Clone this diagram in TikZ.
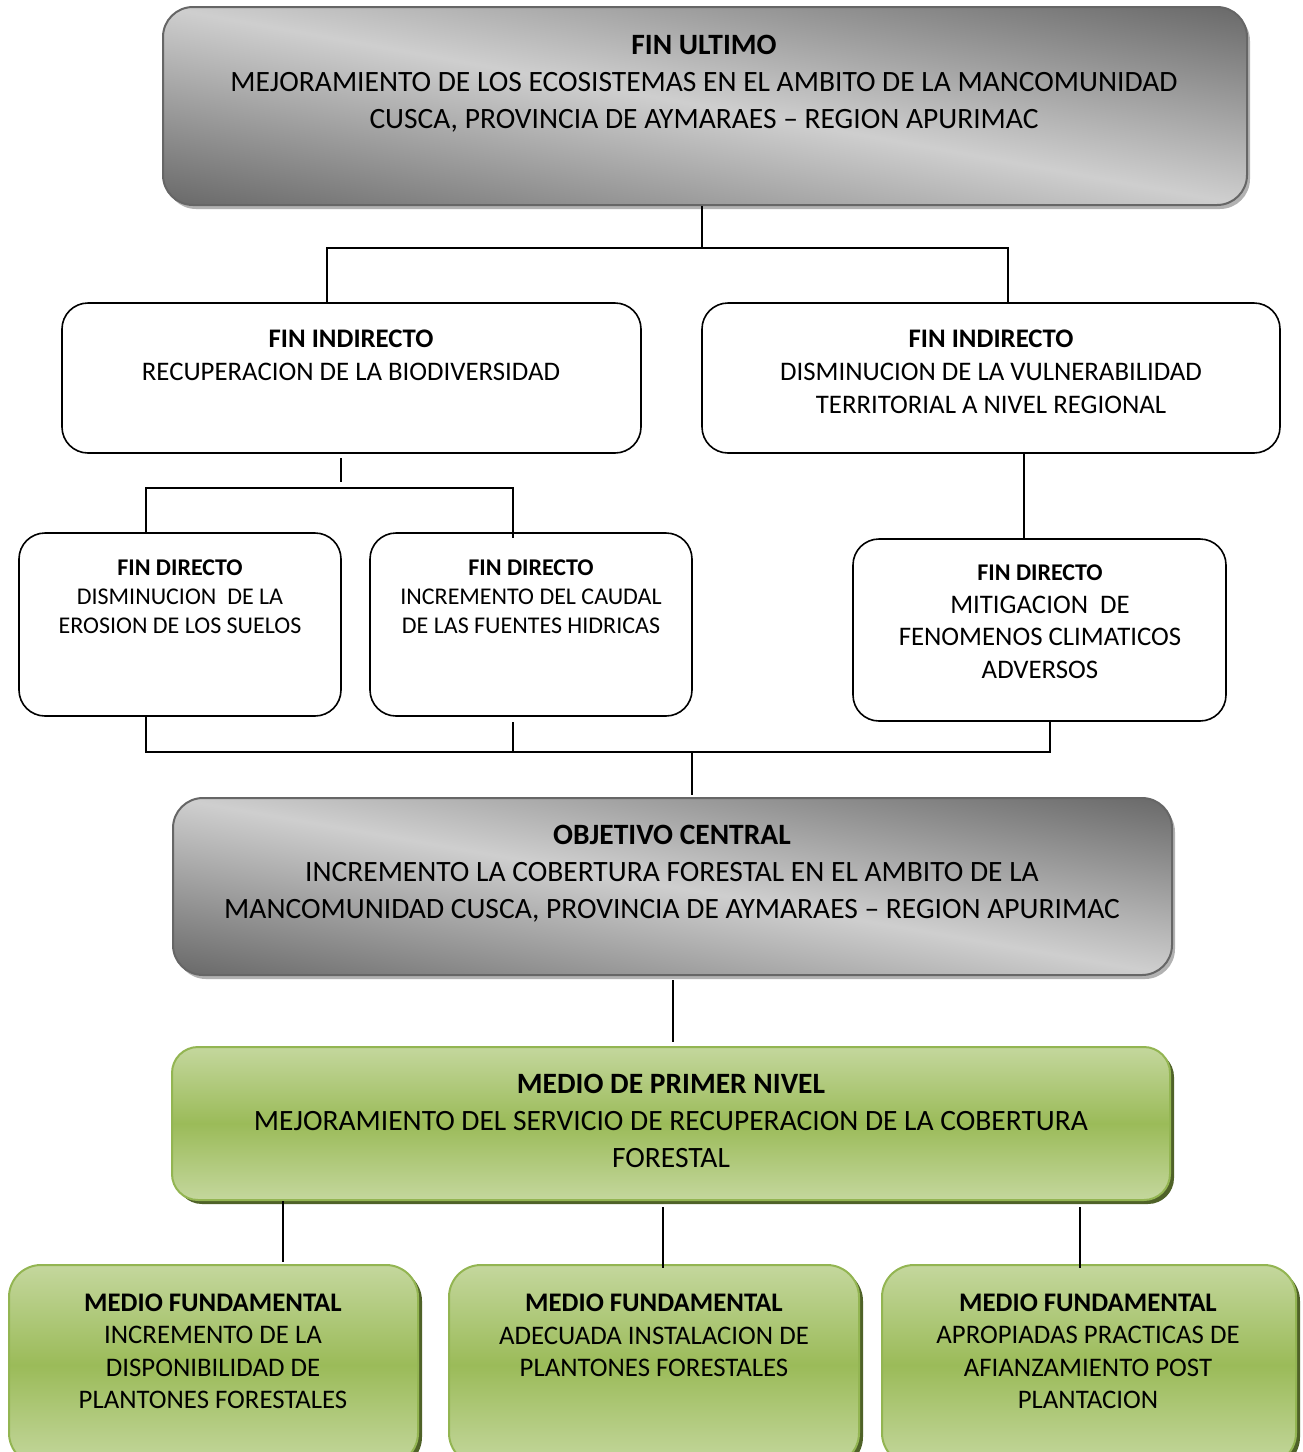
\documentclass[tikz,border=0pt]{standalone}
\usepackage{fontspec}
\setmainfont{Carlito}
\usetikzlibrary{shadows,positioning}

\definecolor{greyline}{HTML}{666666}
\definecolor{greenlight}{HTML}{C4D79D}
\definecolor{greenmid}{HTML}{9BBB59}
\definecolor{greenline}{HTML}{93B552}
\definecolor{greenshadow}{HTML}{4F6228}

% light along the diagonal from top left to bottom right, dark in the other corners
\pgfdeclarefunctionalshading{diaggrey}{\pgfpoint{0bp}{0bp}}{\pgfpoint{100bp}{100bp}}{}{
  add 100 sub abs 50 div 0.40 mul 0.81 exch sub dup dup
}

\begin{document}
\begin{tikzpicture}[
    x=1pt, y=-1pt,
    line width=1.5pt,
    greybox/.style={rectangle, rounded corners=30pt, draw=greyline, line width=2pt, inner sep=0pt,
        shading=diaggrey,
        drop shadow={shadow xshift=3pt, shadow yshift=-4pt, fill=black!30, opacity=1}},
    finbox/.style={rectangle, rounded corners=26pt, draw=black, fill=white, line width=1.6pt, inner sep=0pt},
    greenbox/.style={rectangle, rounded corners=32pt, draw=greenline, line width=2pt, inner sep=0pt,
        top color=greenlight, bottom color=greenlight, middle color=greenmid,
        drop shadow={shadow xshift=4pt, shadow yshift=-4pt, fill=greenshadow, opacity=1}},
    txtbig/.style={align=center, inner sep=0pt, font=\fontsize{29.5}{37}\selectfont},
    txtmid/.style={align=center, inner sep=0pt, font=\fontsize{26.8}{33}\selectfont},
    txtsmall/.style={align=center, inner sep=0pt, font=\fontsize{24}{29}\selectfont}
]
    \useasboundingbox (0,0) rectangle (1303,1452);

    % Fin ultimo
    \node[greybox, minimum width=1084pt, minimum height=198pt] (fu) at (705,106) {};
    \node[txtbig] (fu-t) at (704,84) {\textbf{FIN ULTIMO}\\
        MEJORAMIENTO DE LOS ECOSISTEMAS EN EL AMBITO DE LA MANCOMUNIDAD\\
        CUSCA, PROVINCIA DE AYMARAES – REGION APURIMAC};

    % Fines indirectos
    \node[finbox, minimum width=579pt, minimum height=150pt] (fi1) at (351.5,378) {};
    \node[txtmid] (fi1-t) at (351,355) {\textbf{FIN INDIRECTO}\\RECUPERACION DE LA BIODIVERSIDAD};
    \node[finbox, minimum width=578pt, minimum height=150pt] (fi2) at (991,378) {};
    \node[txtmid] (fi2-t) at (991,371.5) {\textbf{FIN INDIRECTO}\\
        DISMINUCION DE LA VULNERABILIDAD\\TERRITORIAL A NIVEL REGIONAL};

    % Fines directos
    \node[finbox, minimum width=322pt, minimum height=183pt] (fd1) at (180,624.5) {};
    \node[txtsmall] (fd1-t) at (180,597) {\textbf{FIN DIRECTO}\\
        DISMINUCION~ DE LA\\EROSION DE LOS SUELOS};
    \node[finbox, minimum width=322pt, minimum height=183pt] (fd2) at (531,624.5) {};
    \node[txtsmall] (fd2-t) at (531,597) {\textbf{FIN DIRECTO}\\
        INCREMENTO DEL CAUDAL\\DE LAS FUENTES HIDRICAS};
    \node[finbox, minimum width=373pt, minimum height=182pt] (fd3) at (1039.5,630) {};
    \node[txtmid, font=\fontsize{26.8}{32.5}\selectfont] (fd3-t) at (1040,621.5) {{\fontsize{24}{29}\selectfont\textbf{FIN DIRECTO}}\\
        MITIGACION~ DE\\FENOMENOS CLIMATICOS\\ADVERSOS};

    % Objetivo central
    \node[greybox, minimum width=999pt, minimum height=177pt] (oc) at (672.5,886.5) {};
    \node[txtbig] (oc-t) at (672,874) {\textbf{OBJETIVO CENTRAL}\\
        INCREMENTO LA COBERTURA FORESTAL EN EL AMBITO DE LA\\
        MANCOMUNIDAD CUSCA, PROVINCIA DE AYMARAES – REGION APURIMAC};

    % Medio de primer nivel
    \node[greenbox, minimum width=998pt, minimum height=153pt, rounded corners=26pt] (mp) at (671,1123.5) {};
    \node[txtbig] (mp-t) at (671,1120.5) {\textbf{MEDIO DE PRIMER NIVEL}\\
        MEJORAMIENTO DEL SERVICIO DE RECUPERACION DE LA COBERTURA\\FORESTAL};

    % Medios fundamentales
    \node[greenbox, minimum width=409pt, minimum height=200pt] (mf1) at (213.5,1365) {};
    \node[txtmid, font=\fontsize{26.8}{32.5}\selectfont] (mf1-t) at (213,1351.5) {\textbf{MEDIO FUNDAMENTAL}\\
        INCREMENTO DE LA\\DISPONIBILIDAD DE\\PLANTONES FORESTALES};
    \node[greenbox, minimum width=410pt, minimum height=200pt] (mf2) at (654,1365) {};
    \node[txtmid, font=\fontsize{26.8}{32.5}\selectfont] (mf2-t) at (654,1335.5) {\textbf{MEDIO FUNDAMENTAL}\\
        ADECUADA INSTALACION DE\\PLANTONES FORESTALES};
    \node[greenbox, minimum width=414pt, minimum height=200pt] (mf3) at (1089,1365) {};
    \node[txtmid, font=\fontsize{26.8}{32.5}\selectfont] (mf3-t) at (1088,1351.5) {\textbf{MEDIO FUNDAMENTAL}\\
        APROPIADAS PRACTICAS DE\\AFIANZAMIENTO POST\\PLANTACION};

    % Junctions
    \coordinate (t1) at (702,248);
    \coordinate (t2) at (327,248);
    \coordinate (t3) at (1008,248);
    \coordinate (l1) at (341,458);
    \coordinate (l2) at (341,482);
    \coordinate (l3) at (146,488);
    \coordinate (l4) at (513,488);
    \coordinate (l5) at (513,538);
    \coordinate (r1) at (1024,538);
    \coordinate (b1) at (146,752);
    \coordinate (b2) at (513,752);
    \coordinate (b2s) at (513,722);
    \coordinate (b3) at (1050,752);
    \coordinate (b4) at (692,752);
    \coordinate (b5) at (692,795);
    \coordinate (c1) at (673,980);
    \coordinate (c2) at (673,1042);
    \coordinate (m1) at (283,1262);
    \coordinate (m2s) at (663,1207);
    \coordinate (m2) at (663,1268);
    \coordinate (m3s) at (1080,1207);
    \coordinate (m3) at (1080,1268);

    % Connectors
    \draw (t1 |- fu.south) -- (t1);
    \draw (t2 |- fi1.north) -- (t2) -- (t3) -- (t3 |- fi2.north);
    \draw (l1) -- (l2);
    \draw (l3 |- fd1.north) -- (l3) -- (l4) -- (l5);
    \draw (r1 |- fi2.south) -- (r1);
    \draw (b1 |- fd1.south) -- (b1) -- (b3) -- (b3 |- fd3.south);
    \draw (b2s) -- (b2);
    \draw (b4) -- (b5);
    \draw (c1) -- (c2);
    \draw (m1 |- mp.south) -- (m1);
    \draw (m2s) -- (m2);
    \draw (m3s) -- (m3);
\end{tikzpicture}
\end{document}
